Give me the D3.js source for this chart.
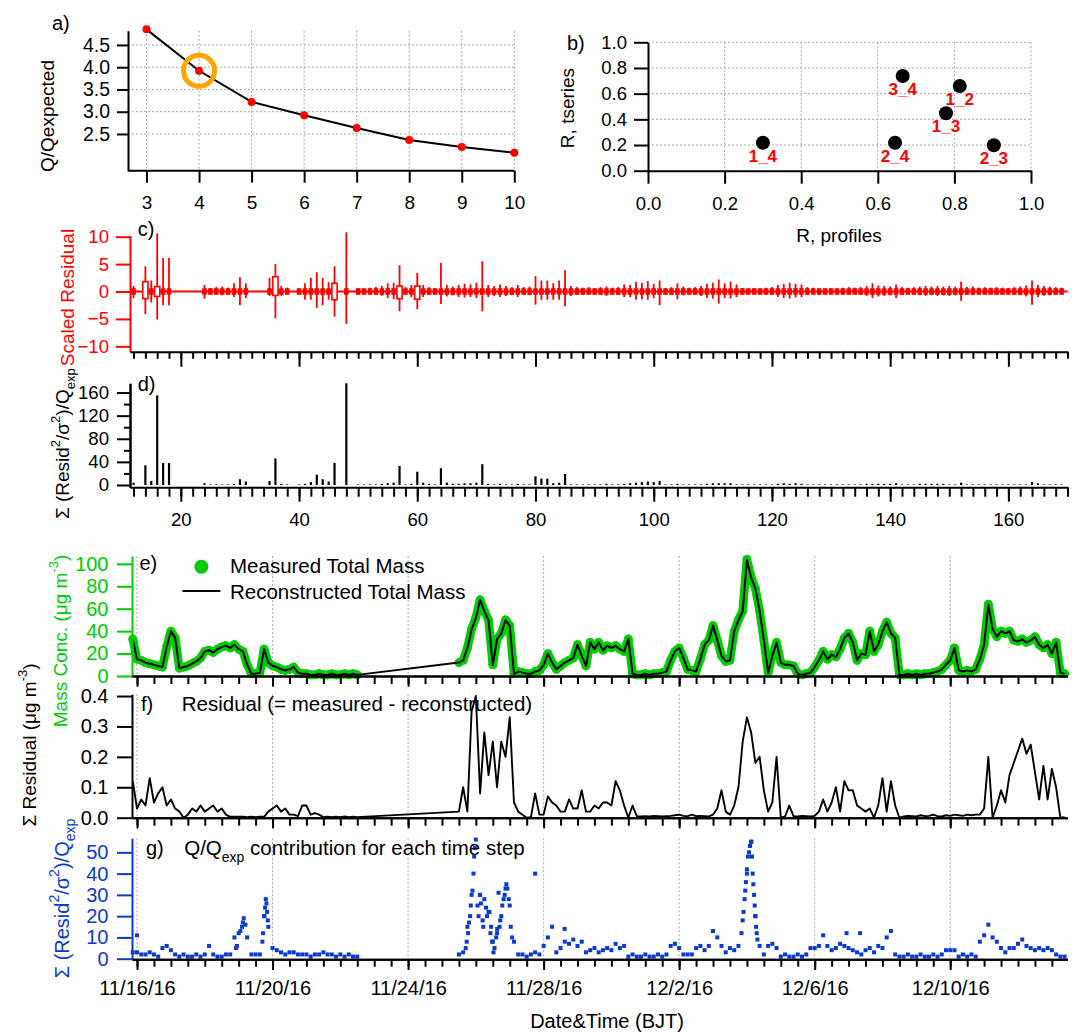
<!DOCTYPE html>
<html>
<head>
<meta charset="utf-8">
<title>PMF diagnostics</title>
<script src="https://cdn.jsdelivr.net/npm/d3@7"></script>
<style>
  body { margin: 0; background: #fff; }
  text { white-space: pre; }
</style>
</head>
<body>
<svg id="chart" width="1072" height="1034"></svg>
<script>
// ---- a) Q/Qexp vs number of factors
var nFactors = [3, 4, 5, 6, 7, 8, 9, 10];
var qOverQexp = [4.85, 3.92, 3.22, 2.92, 2.635, 2.365, 2.21, 2.08];
var chosenFactor = 4;

// ---- b) correlation between factor pairs
var pairNames = ["1_4", "2_4", "3_4", "1_3", "1_2", "2_3"];
var rProfiles = [0.30, 0.645, 0.665, 0.778, 0.814, 0.903];
var rTseries = [0.218, 0.218, 0.737, 0.447, 0.66, 0.198];

// ---- c) d) per m/z
var mzList = [12, 14, 15, 16, 17, 18, 24, 25, 26, 27, 28, 29, 30, 31, 35, 36, 37, 38, 40, 41, 42, 43, 44, 45, 46, 48,
  50, 51, 52, 53, 54, 55, 56, 57, 58, 59,
  60, 61, 62, 63, 64, 65, 66, 67, 68, 69,
  70, 71, 72, 73, 74, 75, 76, 77, 78, 79,
  80, 81, 82, 83, 84, 85, 86, 87, 88, 89,
  90, 91, 92, 93, 94, 95, 96, 97, 98, 99,
  100, 101, 102, 103, 104, 105, 106, 107, 108, 109,
  110, 111, 112, 113, 114, 115, 116, 117, 118, 119,
  120, 121, 122, 123, 124, 125, 126, 127, 128, 129,
  130, 131, 132, 133, 134, 135, 136, 137, 138, 139,
  140, 141, 142, 143, 144, 145, 146, 147, 148, 149,
  150, 151, 152, 153, 154, 155, 156, 157, 158, 159,
  160, 161, 162, 163, 164, 165, 166, 167, 168, 169];

var residHi = [1.0, 4.6, 2.0, 10.6, 6.1, 6.1, 1.2, 0.6, 0.8, 0.9, 0.7, 1.5, 2.6, 1.5, 2.5, 5.0, 1.0, 0.7, 0.5, 1.5, 2.5, 3.5, 2.5, 1.7, 4.6, 10.8,
  0.6, 0.5, 0.7, 0.8, 1.0, 1.5, 1.6, 4.8, 0.8, 1.2,
  3.4, 1.2, 0.8, 0.6, 5.2, 1.2, 0.9, 1.2, 1.4, 1.3,
  1.6, 5.5, 1.2, 1.0, 1.3, 1.0, 0.8, 1.2, 0.8, 0.9,
  2.8, 2.0, 2.0, 1.5, 2.0, 3.9, 1.0, 0.8, 0.7, 0.8,
  0.6, 0.8, 0.9, 0.7, 0.8, 1.3, 1.2, 1.8, 1.6, 1.9,
  1.4, 2.0, 0.6, 0.8, 1.5, 0.9, 0.7, 0.8, 1.0, 1.4,
  1.6, 2.2, 1.5, 1.8, 1.3, 0.6, 0.5, 0.6, 0.5, 0.7,
  0.8, 1.2, 1.4, 1.6, 1.4, 1.3, 0.8, 0.7, 0.5, 0.5,
  0.6, 0.5, 0.7, 0.8, 0.7, 0.8, 1.0, 1.5, 1.1, 1.0,
  0.9, 1.3, 0.8, 0.7, 0.8, 0.9, 1.0, 0.9, 1.0, 0.9,
  1.0, 0.9, 1.8, 0.8, 0.9, 0.7, 0.8, 0.7, 0.8, 0.7,
  0.6, 0.8, 0.9, 1.1, 2.0, 1.2, 1.0, 0.9, 0.8, 0.7];

var residLo = [-1.2, -4.1, -2.0, -5.1, -2.5, -2.5, -1.3, -0.5, -0.6, -0.7, -0.5, -1.0, -2.5, -1.2, -0.8, -4.9, -0.8, -0.5, -0.5, -1.5, -1.5, -3.0, -2.5, -1.5, -4.6, -5.9,
  -0.5, -0.4, -0.5, -0.6, -0.8, -1.2, -1.4, -3.6, -0.6, -1.0,
  -3.2, -1.0, -0.6, -0.5, -2.3, -0.9, -0.7, -1.0, -1.1, -1.0,
  -1.2, -3.6, -1.0, -0.8, -1.0, -0.8, -0.6, -1.0, -0.6, -0.7,
  -2.4, -1.5, -1.5, -1.5, -1.5, -2.7, -0.8, -0.6, -0.6, -0.6,
  -0.5, -0.6, -0.8, -0.5, -0.6, -1.0, -1.0, -1.5, -1.4, -1.5,
  -1.2, -2.5, -0.5, -0.6, -1.4, -0.7, -0.5, -0.6, -0.8, -1.2,
  -1.3, -2.2, -1.2, -1.3, -1.0, -0.5, -0.4, -0.5, -0.4, -0.5,
  -0.6, -1.0, -1.2, -1.3, -1.1, -1.0, -0.6, -0.5, -0.4, -0.4,
  -0.4, -0.4, -0.5, -0.6, -0.5, -0.6, -0.8, -1.2, -0.9, -0.8,
  -0.7, -1.2, -0.6, -0.5, -0.6, -0.7, -0.8, -0.7, -0.8, -0.7,
  -0.8, -0.7, -1.7, -0.6, -0.7, -0.5, -0.6, -0.5, -0.6, -0.5,
  -0.5, -0.6, -0.7, -0.9, -2.4, -1.0, -0.8, -0.7, -0.6, -0.5];

var boxMz = [14, 16, 36, 46, 57, 60];
var boxHi = [1.8, 0.9, 2.7, 1.5, 1.0, 1.0];
var boxLo = [-1.3, -0.9, -0.7, -1.5, -1.3, -1.4];

var qExpByMz = [4, 34, 7, 155, 38, 38, 3, 1, 1, 1, 1, 2, 10, 6, 7, 46, 2, 1, 1, 2, 5, 18, 10, 6, 38, 176,
  1, 1, 1, 1, 2, 3, 4, 33, 1, 2,
  23, 4, 2, 1, 29, 4, 2, 2, 3, 3,
  4, 36, 2, 1, 2, 1, 1, 2, 1, 1,
  15, 11, 11, 3, 4, 19, 1, 1, 1, 1,
  1, 1, 2, 1, 1, 2, 3, 4, 5, 6,
  5, 7, 1, 1, 2, 1, 1, 1, 1, 2,
  3, 3, 3, 3, 1, 1, 1, 1, 1, 1,
  1, 2, 3, 2, 3, 2, 1, 1, 1, 1,
  1, 1, 1, 1, 1, 1, 2, 2, 2, 2,
  2, 3, 1, 1, 1, 2, 2, 2, 2, 2,
  1, 1, 4, 1, 1, 1, 1, 1, 1, 1,
  1, 1, 1, 1, 5, 3, 1, 1, 1, 1];

// ---- e) f) g) time series, 3-hourly from 11/15/16 21:00 (null = no data)
var seriesStart = new Date(2016, 10, 15, 21, 0);
var stepHours = 3;

var measMass = [33,
  15, 14, 12, 11, 10, 9, 8, 26,
  40, 34, 7, 8, 9, 11, 13, 16,
  22, 23, 21, 24, 26, 27, 25, 28,
  24, 22, 10, 2, 2, 3, 24, 12,
  9, 8, 6, 5, 6, 8, 3, 2,
  2, 1, 1, 2, 1, 1, 2, 1,
  1, 2, 1, 2, 1, null, null, null,
  null, null, null, null, null, null, null, null,
  null, null, null, null, null, null, null, null,
  null, null, null, null, 12, 14, 25, 42,
  52, 68, 58, 50, 10, 33, 38, 50,
  45, 2, 4, 3, 2, 2, 4, 5,
  10, 20, 12, 6, 9, 12, 14, 16,
  28, 18, 9, 30, 24, 30, 23, 27,
  25, 27, 24, 22, 33, 2, 1, 1,
  2, 1, 2, 2, 3, 4, 14, 22,
  25, 16, 6, 5, 4, 15, 28, 32,
  45, 32, 18, 13, 14, 40, 50, 58,
  104, 88, 78, 58, 32, 3, 18, 30,
  12, 10, 10, 9, 2, 1, 2, 3,
  8, 14, 22, 15, 19, 17, 24, 34,
  38, 30, 14, 20, 19, 40, 22, 28,
  40, 48, 38, 34, 1, 1, 2, 1,
  2, 1, 2, 2, 3, 4, 6, 10,
  14, 25, 5, 4, 5, 4, 6, 15,
  28, 64, 42, 35, 40, 38, 40, 32,
  31, 33, 30, 32, 35, 28, 25, 28,
  20, 30, 3, 2];

var residMass = [0.12,
  0.03, 0.06, 0.04, 0.13, 0.05, 0.08, 0.10, 0.04,
  0.06, 0.03, 0.02, 0.00, 0.01, 0.03, 0.02, 0.04,
  0.02, 0.03, 0.04, 0.02, 0.03, 0.01, 0.003, 0.003,
  0.003, 0.003, 0.002, 0.003, 0.002, 0.003, 0.003, 0.02,
  0.03, 0.04, 0.02, 0.03, 0.01, 0.01, 0.005, 0.04,
  0.04, 0.01, 0.015, 0.01, 0.002, 0.003, 0.002, 0.003,
  0.002, 0.004, 0.002, 0.003, 0.002, null, null, null,
  null, null, null, null, null, null, null, null,
  null, null, null, null, null, null, null, null,
  null, null, null, null, 0.02, 0.10, 0.02, 0.35,
  0.40, 0.08, 0.28, 0.14, 0.25, 0.10, 0.25, 0.20,
  0.33, 0.05, 0.02, 0.01, 0.00, 0.002, 0.08, 0.01,
  0.01, 0.07, 0.05, 0.04, 0.02, 0.02, 0.06, 0.03,
  0.03, 0.09, 0.02, 0.02, 0.04, 0.03, 0.05, 0.05,
  0.04, 0.12, 0.09, 0.04, 0.00, 0.04, 0.005, 0.004,
  0.005, 0.004, 0.006, 0.005, 0.004, 0.005, 0.006, 0.008,
  0.01, 0.006, 0.005, 0.01, 0.005, 0.006, 0.005, 0.004,
  0.01, 0.03, 0.09, 0.02, 0.01, 0.04, 0.10, 0.25,
  0.33, 0.28, 0.18, 0.20, 0.09, 0.02, 0.05, 0.20,
  0.00, 0.004, 0.04, 0.005, 0.004, 0.006, 0.005, 0.004,
  0.006, 0.02, 0.06, 0.02, 0.05, 0.10, 0.02, 0.12,
  0.09, 0.09, 0.04, 0.03, 0.02, 0.03, 0.00, 0.04,
  0.13, 0.02, 0.12, 0.04, 0.00, 0.004, 0.006, 0.005,
  0.004, 0.008, 0.005, 0.006, 0.01, 0.005, 0.004, 0.008,
  0.006, 0.01, 0.008, 0.006, 0.01, 0.008, 0.01, 0.01,
  0.03, 0.20, 0.00, 0.04, 0.09, 0.05, 0.14, 0.18,
  0.22, 0.26, 0.21, 0.24, 0.15, 0.06, 0.17, 0.06,
  0.16, 0.10, 0.00, 0.002];

var qExpByTime = [3,
  3, 2, 2, 3, 2, 1, 5, 6,
  4, 2, 1, 2, 1, 1, 2, 1,
  2, 6, 2, 1, 1, 2, 2, 10,
  12, 17, 10, 2, 2, 2, 20, 15,
  5, 4, 3, 2, 3, 3, 2, 2,
  2, 1, 2, 2, 3, 2, 2, 1,
  2, 1, 2, 1, 1, null, null, null,
  null, null, null, null, null, null, null, null,
  null, null, null, null, null, null, null, null,
  null, null, null, null, 2, 3, 15, 30,
  56, 30, 28, 22, 8, 12, 20, 33,
  25, 8, 2, 2, 1, 2, 3, 2,
  6, 10, 15, 3, 5, 8, 7, 9,
  6, 8, 3, 4, 5, 3, 4, 5,
  4, 7, 5, 6, 1, 2, 1, 1,
  2, 1, 1, 2, 1, 2, 6, 7,
  5, 2, 2, 2, 5, 6, 4, 6,
  13, 10, 6, 3, 5, 4, 6, 18,
  40, 55, 20, 6, 2, 6, 7, 5,
  1, 2, 1, 1, 2, 1, 2, 5,
  5, 6, 11, 6, 4, 5, 7, 6,
  5, 4, 3, 2, 4, 5, 3, 6,
  5, 10, 13, 2, 1, 1, 2, 1,
  1, 2, 1, 1, 2, 1, 2, 4,
  4, 4, 1, 2, 1, 2, 1, 8,
  11, 16, 10, 8, 5, 3, 5, 5,
  7, 9, 6, 5, 4, 5, 4, 5,
  4, 2, 1, 1];

// extra g) points inside the fast peaks (days after 11/16/16 00:00)
var extraDay = [0.0, 2.92, 2.95, 3.05, 3.1, 3.15, 3.2, 3.7, 3.72, 3.76, 3.78, 3.8, 3.82, 3.84, 3.86,
  9.7, 9.73, 9.77, 9.8, 9.83, 9.85, 9.9, 9.93, 9.95, 9.97, 10.05, 10.08, 10.12, 10.15, 10.2, 10.22,
  10.3, 10.33, 10.4, 10.43, 10.45, 10.48, 10.52, 10.55, 10.6, 10.63, 10.67, 10.7, 10.72, 10.78, 10.82,
  10.85, 10.9, 10.93, 10.97, 11.03, 11.07, 11.75, 12.62,
  17.84, 17.9, 17.93, 17.95, 17.97, 18.0, 18.03, 18.06, 18.09, 18.13, 18.15, 18.17, 18.19, 18.21,
  18.23, 18.25, 18.27, 18.29, 18.31, 20.94, 21.34];
var extraQ = [11, 5, 6, 13, 15, 19, 16, 8, 12, 20, 24, 28, 26, 22, 18,
  5, 8, 12, 17, 20, 25, 32, 40, 48, 52, 25, 20, 30, 26, 18, 15,
  24, 20, 22, 12, 15, 8, 3, 5, 10, 14, 31, 15, 18, 25, 28,
  30, 35, 33, 28, 15, 10, 40, 14,
  12, 22, 28, 32, 36, 42, 48, 50, 53, 55, 48, 40, 35, 30,
  25, 20, 15, 12, 9, 12, 12];

var dateTicks = [new Date(2016, 10, 16), new Date(2016, 10, 20), new Date(2016, 10, 24), new Date(2016, 10, 28),
  new Date(2016, 11, 2), new Date(2016, 11, 6), new Date(2016, 11, 10)];
var dateTickLabels = ["11/16/16", "11/20/16", "11/24/16", "11/28/16", "12/2/16", "12/6/16", "12/10/16"];

// ------------------------------------------------------------------
var FONT = "'Liberation Sans', Arial, Helvetica, sans-serif";
var RED = "#ff0000", GREEN = "#00cc00", BLUE = "#0a3ad0", ORANGE = "#ffa500", GRID = "#a8a8a8";

var svg = d3.select("#chart");
svg.append("rect").attr("width", 1072).attr("height", 1034).attr("fill", "#fff");

function styleAxis(g, color, fs) {
  g.attr("font-family", FONT).attr("font-size", fs);
  g.selectAll(".domain").attr("stroke", color).attr("stroke-width", 2);
  g.selectAll(".tick line").attr("stroke", color).attr("stroke-width", 2);
  g.selectAll(".tick text").attr("fill", color);
  return g;
}

function line(x1, y1, x2, y2, color, w) {
  return svg.append("line").attr("x1", x1).attr("y1", y1).attr("x2", x2).attr("y2", y2)
    .attr("stroke", color).attr("stroke-width", w || 2);
}

function richText(x, y, parts, fs, color, rotate, anchor) {
  var t = svg.append("text")
    .attr("transform", "translate(" + x + "," + y + ")" + (rotate ? " rotate(-90)" : ""))
    .attr("text-anchor", anchor || (rotate ? "middle" : "start"))
    .attr("font-family", FONT).attr("font-size", fs).attr("fill", color);
  var cur = 0;
  parts.forEach(function (p) {
    var off = p.sup ? -0.48 * fs : (p.sub ? 0.32 * fs : 0);
    t.append("tspan").attr("dy", off - cur)
      .attr("font-size", (p.sup || p.sub) ? Math.round(fs * 0.68) : fs)
      .text(p.t);
    cur = off;
  });
  return t;
}

function vGrid(scale, values, y1, y2) {
  svg.append("g").selectAll("line").data(values).enter().append("line")
    .attr("x1", scale).attr("x2", scale).attr("y1", y1).attr("y2", y2)
    .attr("stroke", GRID).attr("stroke-width", 1).attr("stroke-dasharray", "2,2");
}
function hGrid(scale, values, x1, x2) {
  svg.append("g").selectAll("line").data(values).enter().append("line")
    .attr("y1", scale).attr("y2", scale).attr("x1", x1).attr("x2", x2)
    .attr("stroke", GRID).attr("stroke-width", 1).attr("stroke-dasharray", "2,2");
}

// ================= a) =================
var xA = d3.scaleLinear().domain([3, 10]).range([146.5, 514.3]);
var yA = d3.scaleLinear().domain([1.675, 4.82]).range([170.7, 30.7]);
var yTicksA = [2.5, 3.0, 3.5, 4.0, 4.5];
vGrid(xA, nFactors, 30.7, 170.7);
hGrid(yA, yTicksA, 128, 514.3);

styleAxis(svg.append("g").attr("transform", "translate(128,0)")
  .call(d3.axisLeft(yA).tickValues(yTicksA).tickFormat(d3.format(".1f")).tickSize(11).tickPadding(7).tickSizeOuter(0)), "#000", 19.5);
var axA = svg.append("g").attr("transform", "translate(0,170.7)")
  .call(d3.axisBottom(xA).tickValues(nFactors).tickFormat(d3.format("d")).tickSize(12).tickPadding(13).tickSizeOuter(0));
styleAxis(axA, "#000", 19);
axA.select(".domain").remove();
line(128, 170.7, 514.3, 170.7, "#000", 2);

var ptsA = nFactors.map(function (n, i) { return { n: n, q: qOverQexp[i] }; });
svg.append("path").datum(ptsA)
  .attr("d", d3.line().x(function (d) { return xA(d.n); }).y(function (d) { return yA(d.q); }))
  .attr("fill", "none").attr("stroke", "#000").attr("stroke-width", 2);
svg.append("g").selectAll("circle").data(ptsA).enter().append("circle")
  .attr("cx", function (d) { return xA(d.n); }).attr("cy", function (d) { return yA(d.q); })
  .attr("r", 4).attr("fill", RED);
svg.append("circle").attr("cx", xA(chosenFactor)).attr("cy", yA(qOverQexp[nFactors.indexOf(chosenFactor)]))
  .attr("r", 15.5).attr("fill", "none").attr("stroke", ORANGE).attr("stroke-width", 5);

richText(52, 30, [{ t: "a)" }], 20, "#000");
richText(54, 116, [{ t: "Q/Qexpected" }], 19, "#000", true);

// ================= b) =================
var xB = d3.scaleLinear().domain([0, 1]).range([648, 1031]);
var yB = d3.scaleLinear().domain([0, 1]).range([170.7, 42.3]);
var ticksB = [0, 0.2, 0.4, 0.6, 0.8, 1.0];
vGrid(xB, ticksB.slice(1), 42.3, 170.7);
hGrid(yB, ticksB.slice(1), 648, 1031);
styleAxis(svg.append("g").attr("transform", "translate(648,0)")
  .call(d3.axisLeft(yB).tickValues(ticksB).tickFormat(d3.format(".1f")).tickSize(14).tickPadding(7).tickSizeOuter(0)), "#000", 18.5);
styleAxis(svg.append("g").attr("transform", "translate(0,170.7)")
  .call(d3.axisBottom(xB).tickValues(ticksB).tickFormat(d3.format(".1f")).tickSize(13).tickPadding(13).tickSizeOuter(0)), "#000", 18.5);

var ptsB = pairNames.map(function (p, i) { return { name: p, x: rProfiles[i], y: rTseries[i] }; });
svg.append("g").selectAll("circle").data(ptsB).enter().append("circle")
  .attr("cx", function (d) { return xB(d.x); }).attr("cy", function (d) { return yB(d.y); })
  .attr("r", 7).attr("fill", "#000");
svg.append("g").selectAll("text").data(ptsB).enter().append("text")
  .attr("x", function (d) { return xB(d.x); }).attr("y", function (d) { return yB(d.y) + 19; })
  .attr("text-anchor", "middle").attr("font-family", FONT).attr("font-size", 17).attr("font-weight", "bold")
  .attr("fill", RED).text(function (d) { return d.name; });

richText(567, 50, [{ t: "b)" }], 20, "#000");
richText(574, 108, [{ t: "R, tseries" }], 19, "#000", true);
richText(839, 242, [{ t: "R, profiles" }], 19, "#000", false, "middle");

// ================= c) =================
var xM = d3.scaleLinear().domain([11.4, 170]).range([130, 1067.5]);
var yC = d3.scaleLinear().domain([-11, 10.2]).range([351.8, 235.6]);

line(130, yC(0), 1067.5, yC(0), RED, 2);
var resRows = mzList.map(function (m, i) { return { mz: m, hi: residHi[i], lo: residLo[i], q: qExpByMz[i] }; });
svg.append("g").selectAll("line").data(resRows).enter().append("line")
  .attr("x1", function (d) { return xM(d.mz); }).attr("x2", function (d) { return xM(d.mz); })
  .attr("y1", function (d) { return yC(d.hi); }).attr("y2", function (d) { return yC(d.lo); })
  .attr("stroke", RED).attr("stroke-width", 1.8);
svg.append("g").selectAll("rect").data(resRows.filter(function (d) { return boxMz.indexOf(d.mz) < 0; }))
  .enter().append("rect")
  .attr("x", function (d) { return xM(d.mz) - 2.3; }).attr("width", 4.6)
  .attr("y", yC(0.6)).attr("height", yC(-0.6) - yC(0.6)).attr("fill", RED);
svg.append("g").selectAll("rect").data(boxMz).enter().append("rect")
  .attr("x", function (m) { return xM(m) - 2.6; }).attr("width", 5.2)
  .attr("y", function (m, i) { return yC(boxHi[i]); })
  .attr("height", function (m, i) { return yC(boxLo[i]) - yC(boxHi[i]); })
  .attr("fill", "#fff").attr("stroke", RED).attr("stroke-width", 1.6);

styleAxis(svg.append("g").attr("transform", "translate(130,0)")
  .call(d3.axisLeft(yC).tickValues([-10, -5, 0, 5, 10]).tickSize(14).tickPadding(7).tickSizeOuter(0)), RED, 18.6);
var cMinor = svg.append("g").attr("transform", "translate(0,351.8)")
  .call(d3.axisBottom(xM).tickValues(d3.range(12, 171, 2)).tickSize(7).tickFormat("").tickSizeOuter(0));
styleAxis(cMinor, "#000", 18.6);
cMinor.select(".domain").remove();
styleAxis(svg.append("g").attr("transform", "translate(0,351.8)")
  .call(d3.axisBottom(xM).tickValues(d3.range(20, 170, 20)).tickSize(15).tickFormat("").tickSizeOuter(0)), "#000", 18.6);

richText(137.7, 236, [{ t: "c)" }], 20, "#000");
richText(74, 297.5, [{ t: "Scaled Residual" }], 19, RED, true);

// ================= d) =================
var yD = d3.scaleLinear().domain([-4, 176]).range([487.3, 383.3]);
svg.append("g").selectAll("line").data(resRows).enter().append("line")
  .attr("x1", function (d) { return xM(d.mz); }).attr("x2", function (d) { return xM(d.mz); })
  .attr("y1", yD(0)).attr("y2", function (d) { return yD(d.q); })
  .attr("stroke", "#000").attr("stroke-width", 2.2);

var dMinorY = svg.append("g").attr("transform", "translate(130,0)")
  .call(d3.axisLeft(yD).tickValues([20, 60, 100, 140]).tickSize(6).tickFormat("").tickSizeOuter(0));
styleAxis(dMinorY, "#000", 18.6);
styleAxis(svg.append("g").attr("transform", "translate(130,0)")
  .call(d3.axisLeft(yD).tickValues([0, 40, 80, 120, 160]).tickSize(13).tickPadding(8).tickSizeOuter(0)), "#000", 18.6);
var dMinor = svg.append("g").attr("transform", "translate(0,487.3)")
  .call(d3.axisBottom(xM).tickValues(d3.range(12, 171, 2)).tickSize(9.4).tickFormat("").tickSizeOuter(0));
styleAxis(dMinor, "#000", 18.6);
dMinor.select(".domain").remove();
styleAxis(svg.append("g").attr("transform", "translate(0,487.3)")
  .call(d3.axisBottom(xM).tickValues(d3.range(20, 170, 20)).tickSize(14.4).tickPadding(11).tickSizeOuter(0)), "#000", 18.6);

richText(137.7, 391, [{ t: "d)" }], 20, "#000");
richText(69, 443.7, [{ t: "\u03a3 (Resid" }, { t: "2", sup: true }, { t: "/\u03c3" }, { t: "2", sup: true },
  { t: ")/Q" }, { t: "exp", sub: true }], 19, "#000", true);

// ================= time panels =================
var xT = d3.scaleTime().domain([new Date(2016, 10, 15, 20, 27), new Date(2016, 11, 13, 11, 4)]).range([132, 1067.5]);
var day0 = new Date(2016, 10, 16);
function tAt(i) { return new Date(seriesStart.getTime() + i * stepHours * 3600000); }
function tDay(d) { return new Date(day0.getTime() + d * 86400000); }
var halfDays = d3.timeHour.every(12).range(xT.domain()[0], xT.domain()[1]);

function timeAxis(y, majorLen, minorLen, labels) {
  var gm = svg.append("g").attr("transform", "translate(0," + y + ")")
    .call(d3.axisBottom(xT).tickValues(halfDays).tickSize(minorLen).tickFormat("").tickSizeOuter(0));
  styleAxis(gm, "#000", 20);
  var gM = svg.append("g").attr("transform", "translate(0," + y + ")")
    .call(d3.axisBottom(xT).tickValues(dateTicks).tickSize(majorLen).tickPadding(10.8).tickSizeOuter(0)
      .tickFormat(function (d, i) { return labels ? dateTickLabels[i] : ""; }));
  styleAxis(gM, "#000", 20);
}

var rows = measMass.map(function (v, i) {
  return { t: tAt(i), m: v, r: residMass[i], q: qExpByTime[i] };
});

// ================= e) =================
var yE = d3.scaleLinear().domain([0, 107]).range([676, 556]);
vGrid(xT, dateTicks, 556, 676);
svg.append("path").datum(rows)
  .attr("d", d3.line().defined(function (d) { return d.m != null; })
    .x(function (d) { return xT(d.t); }).y(function (d) { return yE(d.m); }))
  .attr("fill", "none").attr("stroke", GREEN).attr("stroke-width", 8.6)
  .attr("stroke-linejoin", "round").attr("stroke-linecap", "round");
svg.append("g").selectAll("circle").data(rows.filter(function (d) { return d.m != null; })).enter().append("circle")
  .attr("cx", function (d) { return xT(d.t); }).attr("cy", function (d) { return yE(d.m); })
  .attr("r", 4.4).attr("fill", GREEN);
// reconstructed = measured - residual
svg.append("path").datum(rows.filter(function (d) { return d.m != null; }))
  .attr("d", d3.line().x(function (d) { return xT(d.t); }).y(function (d) { return yE(d.m - d.r); }))
  .attr("fill", "none").attr("stroke", "#000").attr("stroke-width", 2).attr("stroke-linejoin", "round");

styleAxis(svg.append("g").attr("transform", "translate(132,0)")
  .call(d3.axisLeft(yE).tickValues([0, 20, 40, 60, 80, 100]).tickSize(15).tickPadding(8.5).tickSizeOuter(0)), GREEN, 20);
timeAxis(676, 10.7, 8, false);

svg.append("circle").attr("cx", 201.4).attr("cy", 566.7).attr("r", 7).attr("fill", GREEN);
richText(230, 573, [{ t: "Measured Total Mass" }], 20.5, "#000");
line(182.5, 591, 220.4, 591, "#000", 2);
richText(230, 598.5, [{ t: "Reconstructed Total Mass" }], 20.5, "#000");
richText(139.5, 570, [{ t: "e)" }], 20, "#000");
richText(67, 641, [{ t: "Mass Conc. (\u03bcg m" }, { t: "-3", sup: true }, { t: ")" }], 19, GREEN, true);

// ================= f) =================
var yF = d3.scaleLinear().domain([0, 0.406]).range([817.7, 694.2]);
vGrid(xT, dateTicks, 694.2, 817.7);
svg.append("path").datum(rows.filter(function (d) { return d.r != null; }))
  .attr("d", d3.line().x(function (d) { return xT(d.t); }).y(function (d) { return yF(d.r); }))
  .attr("fill", "none").attr("stroke", "#000").attr("stroke-width", 1.9).attr("stroke-linejoin", "round");
styleAxis(svg.append("g").attr("transform", "translate(132,0)")
  .call(d3.axisLeft(yF).tickValues([0, 0.1, 0.2, 0.3, 0.4]).tickFormat(d3.format(".1f")).tickSize(15).tickPadding(8.5).tickSizeOuter(0)), "#000", 20);
timeAxis(817.7, 10.7, 8, false);
richText(141, 711, [{ t: "f)" }], 20, "#000");
richText(181.8, 711, [{ t: "Residual (= measured - reconstructed)" }], 20.5, "#000");
richText(36, 745, [{ t: "\u03a3 Residual (\u03bcg m" }, { t: "-3", sup: true }, { t: ")" }], 19, "#000", true);

// ================= g) =================
var yG = d3.scaleLinear().domain([0, 56.6]).range([958.7, 838.3]);
vGrid(xT, dateTicks, 838.3, 959.3);
var gPts = rows.filter(function (d) { return d.q != null; }).map(function (d) { return { t: d.t, q: d.q }; })
  .concat(extraDay.map(function (dd, i) { return { t: tDay(dd), q: extraQ[i] }; }));
svg.append("g").selectAll("rect").data(gPts).enter().append("rect")
  .attr("x", function (d) { return xT(d.t) - 2; }).attr("y", function (d) { return yG(d.q) - 2; })
  .attr("width", 4).attr("height", 4).attr("fill", BLUE);
styleAxis(svg.append("g").attr("transform", "translate(132,0)")
  .call(d3.axisLeft(yG).tickValues([0, 10, 20, 30, 40, 50]).tickSize(15).tickPadding(8.5).tickSizeOuter(0)), BLUE, 20);
timeAxis(959.3, 10.7, 7.4, true);

richText(146, 855, [{ t: "g)" }], 20, "#000");
richText(184.2, 855, [{ t: "Q/Q" }, { t: "exp", sub: true }, { t: " contribution for each time step" }], 20.5, "#000");
richText(69, 898.5, [{ t: "\u03a3 (Resid" }, { t: "2", sup: true }, { t: "/\u03c3" }, { t: "2", sup: true },
  { t: ")/Q" }, { t: "exp", sub: true }], 20, BLUE, true);
richText(607, 1028, [{ t: "Date&Time (BJT)" }], 20, "#000", false, "middle");
</script>
</body>
</html>
